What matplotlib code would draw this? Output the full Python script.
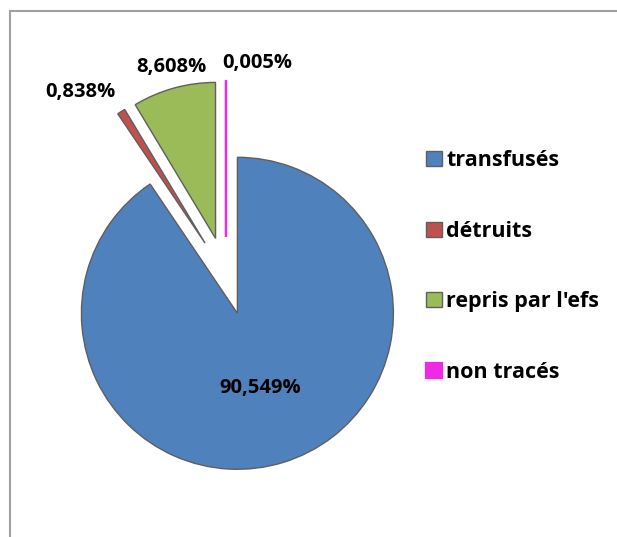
import matplotlib.pyplot as plt
from matplotlib.patches import Rectangle

plt.rcParams['font.family'] = ['Open Sans', 'DejaVu Sans']

# data
categories = ["transfusés", "détruits", "repris par l'efs", "non tracés"]
values = [90.549, 0.838, 8.608, 0.005]
colors = ['#4F81BD', '#C0504D', '#9BBB59', '#EE2AE6']

# layout in pixels (y measured from the bottom)
W, H = 617, 537
center = (226, 261)
radius = 156
explode = [0.25 * radius] * 4
# where the small-slice labels sit (x, y)
outside_pos = {1: (80, 445), 2: (171, 470), 3: (257, 474)}

fig = plt.figure(figsize=(W / 100, H / 100), dpi=100)
ax = fig.add_axes([0, 0, 1, 1])
ax.axis('off')

wedges, texts, autotexts = ax.pie(
    values, colors=colors, explode=explode, center=center, radius=radius,
    startangle=90, counterclock=False, pctdistance=0.5,
    autopct=lambda p: f'{p:.3f}%'.replace('.', ','),
    wedgeprops=dict(edgecolor='#5F5F5F', linewidth=1.0),
    textprops=dict(fontsize=14.5, fontweight='bold', color='black'),
)
ax.set_xlim(0, W)
ax.set_ylim(0, H)
ax.set_aspect('equal')

# tiny slice drawn as a thin magenta line
wedges[3].set_edgecolor(colors[3])
wedges[3].set_linewidth(1.6)

for i, (x, y) in outside_pos.items():
    autotexts[i].set_position((x, y))
    autotexts[i].set_ha('center')
    autotexts[i].set_va('center')

leg = ax.legend(wedges, categories, loc='upper left',
                bbox_to_anchor=(407 / W, 1 - 131 / H), frameon=False,
                prop=dict(size=15.5, weight='bold'), handlelength=0.72,
                handleheight=0.68, handletextpad=0.2, labelspacing=2.3)
for h in leg.legend_handles:
    h.set_edgecolor('#5F5F5F')
leg.legend_handles[3].set_edgecolor(colors[3])

# chart border (only the top and left edges show)
ax.add_patch(Rectangle((10, -20), 700, H - 11 + 20, fill=False,
                       edgecolor='#A0A0A0', linewidth=1.5))

fig.savefig('out.png', dpi=100)
